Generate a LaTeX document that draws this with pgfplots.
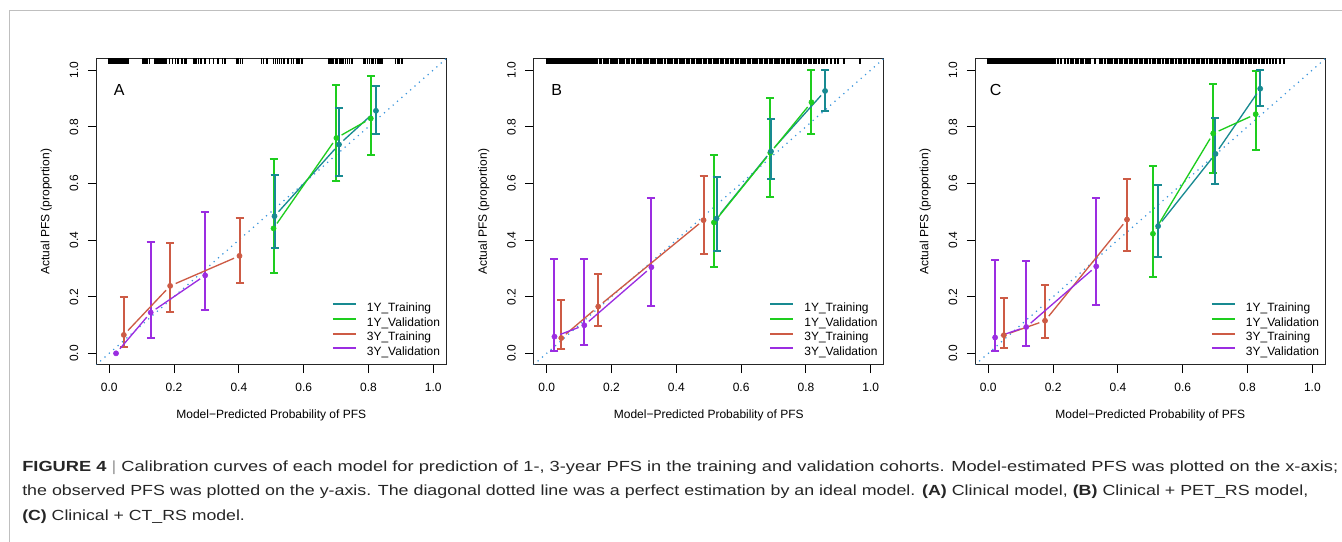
\documentclass[border=0pt]{standalone}
\usepackage{fontspec}
\setmainfont{Liberation Sans}
\usepackage{graphicx}
\usepackage{pgfplots}
\pgfplotsset{compat=1.18}

\definecolor{cTa}{RGB}{24,138,145}
\definecolor{cVa}{RGB}{30,205,30}
\definecolor{cTb}{RGB}{205,91,69}
\definecolor{cVb}{RGB}{155,45,225}
\definecolor{cDiag}{RGB}{60,150,220}

\pgfplotsset{
  table/errtab/.style={x=x,y=y,y error plus expr=\thisrow{h}-\thisrow{y},y error minus expr=\thisrow{y}-\thisrow{l}},
  calib/.style={
    scale only axis, width=262.5pt, height=229.5pt, anchor=north west,
    xmin=-0.04, xmax=1.04, ymin=-0.04, ymax=1.04,
    xtick={0,0.2,0.4,0.6,0.8,1}, ytick={0,0.2,0.4,0.6,0.8,1},
    xtick pos=left, ytick pos=left,
    tick align=outside, major tick length=6.3pt,
    tick style={black, line width=0.75pt},
    axis line style={black!85, line width=0.75pt},
    /pgf/number format/assume math mode=true,
    ticklabel style={font=\fontsize{9}{10}\selectfont,/pgf/number format/fixed,/pgf/number format/fixed zerofill,/pgf/number format/precision=1,/pgf/number format/assume math mode=true},
    xticklabel style={anchor=north, inner sep=0pt},
    yticklabel style={rotate=90, anchor=south, inner sep=0pt},
    xticklabel shift=7.6pt, yticklabel shift=7pt,
    label style={font=\fontsize{9}{10}\selectfont},
    xlabel={Model\textminus Predicted Probability of PFS},
    ylabel={Actual PFS (proportion)},
    xlabel style={at={(axis description cs:0.5,-0.1667)}, anchor=center},
    ylabel style={at={(axis description cs:-0.143,0.5)}, anchor=center},
    legend style={at={(axis cs:0.686,0.178)}, anchor=north west, draw=none, fill=none,
      font=\fontsize{9}{10}\selectfont, inner sep=0pt, row sep=2.6pt, column sep=7.5pt,
      nodes={inner sep=0pt, text height=6.5pt, text depth=1.8pt}},
    legend cell align=left,
    legend image code/.code={\draw[#1, line width=1.5pt] (0pt,3.2pt) -- (17.3pt,3.2pt);},
  },
  diag/.style={color=cDiag, line width=1.3pt, line cap=round, dash pattern=on 0pt off 4.35pt, forget plot},
  rug/.style={only marks, mark=|, mark size=2.1pt, mark options={line width=#1, black}, forget plot},
  bars/.style={only marks, mark=*, mark size=1.95pt, color=#1, forget plot,
    error bars/.cd, y dir=both, y explicit,
    error bar style={line width=1.5pt, #1},
    error mark options={line width=1.5pt, mark size=3pt, #1, rotate=90}},
  dot/.style={only marks, mark=*, mark size=1.95pt, color=#1, forget plot},
}
\newcommand{\seg}[3]{\addplot[#1, line width=1pt, shorten <=4.5pt, shorten >=4.5pt, forget plot] coordinates {#2 #3};}
\newcommand{\legendfour}{%
  \addlegendimage{cTa}\addlegendentry{1Y\_Training}
  \addlegendimage{cVa}\addlegendentry{1Y\_Validation}
  \addlegendimage{cTb}\addlegendentry{3Y\_Training}
  \addlegendimage{cVb}\addlegendentry{3Y\_Validation}}

\begin{document}
\begin{tikzpicture}
\path[use as bounding box] (0pt,0pt) rectangle (1006.5pt,-406.5pt);
\draw[black!25, line width=0.9pt] (6.9pt,-406.5pt) -- (6.9pt,-8pt) -- (1006.5pt,-8pt);

% ---------------- Panel A ----------------
\begin{axis}[calib, at={(72.2pt,-44pt)}]
\addplot[diag] coordinates {(-0.04,-0.04) (1.04,1.04)};
\addplot[rug=1.2pt] table[row sep=\\, header=false, x index=0, y expr=1.031] {0.000\\0.004\\0.008\\0.011\\0.015\\0.019\\0.022\\0.026\\0.030\\0.034\\0.038\\0.041\\0.045\\0.050\\0.055\\0.059\\0.103\\0.108\\0.113\\0.118\\0.124\\0.141\\0.146\\0.150\\0.155\\0.160\\0.165\\0.170\\0.176\\0.186\\0.195\\0.205\\0.213\\0.225\\0.233\\0.239\\0.262\\0.268\\0.276\\0.283\\0.296\\0.310\\0.322\\0.336\\0.349\\0.358\\0.393\\0.398\\0.405\\0.411\\0.470\\0.476\\0.486\\0.507\\0.513\\0.519\\0.525\\0.532\\0.540\\0.552\\0.562\\0.569\\0.579\\0.586\\0.594\\0.677\\0.682\\0.688\\0.692\\0.699\\0.704\\0.712\\0.718\\0.722\\0.729\\0.735\\0.741\\0.749\\0.786\\0.791\\0.797\\0.803\\0.810\\0.816\\0.822\\0.829\\0.835\\0.842\\0.883\\0.890\\0.895\\0.904\\};
% error bars
\addplot[bars=cVb] table[errtab] {
x y h l
0.128 0.144 0.392 0.053
0.296 0.275 0.498 0.153
};
\addplot[bars=cTb] table[errtab] {
x y h l
0.045 0.065 0.199 0.021
0.188 0.238 0.389 0.145
0.402 0.344 0.477 0.247
};
\addplot[bars=cVa] table[errtab] {
x y h l
0.507 0.441 0.685 0.282
0.701 0.760 0.948 0.610
0.807 0.829 0.978 0.701
};
\addplot[bars=cTa] table[errtab] {
x y h l
0.510 0.484 0.629 0.373
0.709 0.737 0.866 0.627
0.823 0.856 0.943 0.775
};
\addplot[dot=cVb] coordinates {(0.021,0.000)};
% lines
\seg{cTa}{(0.510,0.484)}{(0.709,0.737)}
\seg{cTa}{(0.709,0.737)}{(0.823,0.856)}
\seg{cVa}{(0.507,0.441)}{(0.701,0.760)}
\seg{cVa}{(0.701,0.760)}{(0.807,0.829)}
\seg{cTb}{(0.045,0.065)}{(0.188,0.238)}
\seg{cTb}{(0.188,0.238)}{(0.402,0.344)}
\seg{cVb}{(0.021,0.000)}{(0.128,0.144)}
\seg{cVb}{(0.128,0.144)}{(0.296,0.275)}
\node[font=\fontsize{12}{13}\selectfont] at (axis cs:0.031,0.928) {A};
\legendfour
\end{axis}

% ---------------- Panel B ----------------
\begin{axis}[calib, at={(400.3pt,-44pt)}]
\addplot[diag] coordinates {(-0.04,-0.04) (1.04,1.04)};
\addplot[rug=1.5pt] table[row sep=\\, header=false, x index=0, y expr=1.031] {0.000\\0.004\\0.007\\0.010\\0.013\\0.017\\0.020\\0.024\\0.027\\0.031\\0.034\\0.038\\0.041\\0.045\\0.049\\0.052\\0.056\\0.060\\0.063\\0.068\\0.074\\0.079\\0.083\\0.090\\0.096\\0.101\\0.106\\0.113\\0.119\\0.124\\0.131\\0.137\\0.142\\0.150\\0.156\\0.163\\0.169\\0.176\\0.184\\0.190\\0.197\\0.205\\0.212\\0.218\\0.226\\0.233\\0.240\\0.247\\0.255\\0.262\\0.270\\0.278\\0.284\\0.291\\0.299\\0.306\\0.313\\0.321\\0.329\\0.335\\0.343\\0.350\\0.357\\0.366\\0.373\\0.380\\0.388\\0.395\\0.403\\0.410\\0.417\\0.425\\0.433\\0.440\\0.447\\0.455\\0.463\\0.470\\0.477\\0.485\\0.493\\0.500\\0.508\\0.515\\0.522\\0.530\\0.538\\0.545\\0.553\\0.560\\0.568\\0.575\\0.583\\0.590\\0.598\\0.605\\0.613\\0.620\\0.628\\0.636\\0.643\\0.650\\0.658\\0.665\\0.673\\0.680\\0.688\\0.695\\0.703\\0.710\\0.718\\0.725\\0.733\\0.741\\0.748\\0.756\\0.763\\0.771\\0.778\\0.786\\0.793\\0.801\\0.809\\0.816\\0.824\\0.832\\0.840\\0.848\\0.856\\0.866\\0.877\\0.889\\0.900\\0.916\\0.968\\};
\addplot[bars=cVb] table[errtab] {
x y h l
0.024 0.059 0.332 0.009
0.116 0.099 0.332 0.031
0.323 0.304 0.547 0.168
};
\addplot[bars=cTb] table[errtab] {
x y h l
0.045 0.054 0.187 0.015
0.159 0.165 0.279 0.098
0.484 0.470 0.627 0.351
};
\addplot[bars=cVa] table[errtab] {
x y h l
0.516 0.462 0.701 0.305
0.690 0.708 0.901 0.552
0.817 0.886 1.000 0.773
};
\addplot[bars=cTa] table[errtab] {
x y h l
0.524 0.476 0.623 0.361
0.692 0.713 0.827 0.617
0.859 0.926 1.000 0.856
};
\seg{cTa}{(0.524,0.476)}{(0.692,0.713)}
\seg{cTa}{(0.692,0.713)}{(0.859,0.926)}
\seg{cVa}{(0.516,0.462)}{(0.690,0.708)}
\seg{cVa}{(0.690,0.708)}{(0.817,0.886)}
\seg{cTb}{(0.045,0.054)}{(0.159,0.165)}
\seg{cTb}{(0.159,0.165)}{(0.484,0.470)}
\seg{cVb}{(0.024,0.059)}{(0.116,0.099)}
\seg{cVb}{(0.116,0.099)}{(0.323,0.304)}
\node[font=\fontsize{12}{13}\selectfont] at (axis cs:0.031,0.928) {B};
\legendfour
\end{axis}

% ---------------- Panel C ----------------
\begin{axis}[calib, at={(731.5pt,-44pt)}]
\addplot[diag] coordinates {(-0.04,-0.04) (1.04,1.04)};
\addplot[rug=1.5pt] table[row sep=\\, header=false, x index=0, y expr=1.031] {0.000\\0.003\\0.006\\0.010\\0.013\\0.016\\0.020\\0.023\\0.027\\0.030\\0.034\\0.037\\0.041\\0.044\\0.048\\0.051\\0.055\\0.058\\0.062\\0.066\\0.070\\0.074\\0.078\\0.082\\0.086\\0.090\\0.095\\0.100\\0.104\\0.109\\0.114\\0.118\\0.123\\0.128\\0.133\\0.138\\0.143\\0.148\\0.153\\0.158\\0.163\\0.168\\0.174\\0.180\\0.186\\0.192\\0.199\\0.206\\0.214\\0.224\\0.236\\0.246\\0.254\\0.262\\0.270\\0.278\\0.286\\0.293\\0.300\\0.308\\0.315\\0.330\\0.345\\0.352\\0.360\\0.368\\0.375\\0.383\\0.391\\0.398\\0.406\\0.413\\0.421\\0.429\\0.436\\0.444\\0.452\\0.460\\0.467\\0.475\\0.483\\0.491\\0.499\\0.507\\0.515\\0.523\\0.531\\0.539\\0.547\\0.555\\0.563\\0.571\\0.579\\0.587\\0.595\\0.603\\0.611\\0.619\\0.627\\0.635\\0.643\\0.651\\0.659\\0.667\\0.675\\0.683\\0.691\\0.699\\0.707\\0.715\\0.723\\0.731\\0.739\\0.747\\0.755\\0.763\\0.771\\0.779\\0.787\\0.795\\0.803\\0.811\\0.819\\0.827\\0.835\\0.843\\0.851\\0.859\\0.868\\0.878\\0.889\\0.900\\0.912\\};
\addplot[bars=cVb] table[errtab] {
x y h l
0.021 0.056 0.329 0.008
0.117 0.093 0.326 0.026
0.333 0.307 0.547 0.172
};
\addplot[bars=cTb] table[errtab] {
x y h l
0.048 0.064 0.195 0.020
0.175 0.115 0.241 0.054
0.428 0.472 0.615 0.361
};
\addplot[bars=cVa] table[errtab] {
x y h l
0.508 0.422 0.661 0.270
0.694 0.776 0.949 0.635
0.825 0.844 0.997 0.717
};
\addplot[bars=cTa] table[errtab] {
x y h l
0.524 0.449 0.594 0.340
0.701 0.704 0.829 0.599
0.839 0.934 0.999 0.874
};
\seg{cTa}{(0.524,0.449)}{(0.701,0.704)}
\seg{cTa}{(0.701,0.704)}{(0.839,0.934)}
\seg{cVa}{(0.508,0.422)}{(0.694,0.776)}
\seg{cVa}{(0.694,0.776)}{(0.825,0.844)}
\seg{cTb}{(0.048,0.064)}{(0.175,0.115)}
\seg{cTb}{(0.175,0.115)}{(0.428,0.472)}
\seg{cVb}{(0.021,0.056)}{(0.117,0.093)}
\seg{cVb}{(0.117,0.093)}{(0.333,0.307)}
\node[font=\fontsize{12}{13}\selectfont] at (axis cs:0.023,0.928) {C};
\legendfour
\end{axis}

% ---------------- Caption ----------------
\node[anchor=west, inner sep=0pt, text=black!85] at (16.5pt,-351pt) {\resizebox{987pt}{\height}{\fontsize{11}{13}\selectfont\textbf{FIGURE 4}\ {\color{black!40}|}\ Calibration curves of each model for prediction of 1-, 3-year PFS in the training and validation cohorts. Model-estimated PFS was plotted on the x-axis;}};
\node[anchor=west, inner sep=0pt, text=black!85] at (16.5pt,-369pt) {\resizebox{964.5pt}{\height}{\fontsize{11}{13}\selectfont the observed PFS was plotted on the y-axis. The diagonal dotted line was a perfect estimation by an ideal model. \textbf{(A)} Clinical model, \textbf{(B)} Clinical + PET\_RS model,}};
\node[anchor=west, inner sep=0pt, text=black!85] at (16.5pt,-387.8pt) {\resizebox{167pt}{\height}{\fontsize{11}{13}\selectfont\textbf{(C)} Clinical + CT\_RS model.}};
\end{tikzpicture}
\end{document}
